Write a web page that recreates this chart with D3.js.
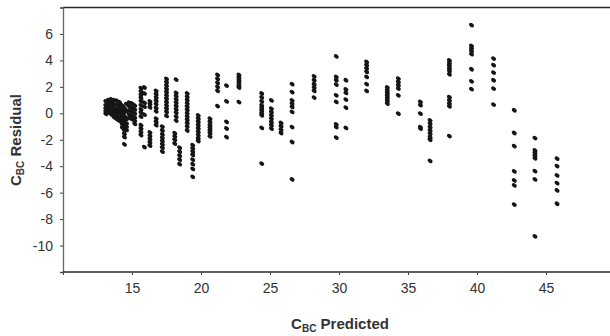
<!DOCTYPE html>
<html>
<head>
<meta charset="utf-8">
<script src="https://cdn.jsdelivr.net/npm/d3@7"></script>
<style>
  html, body { margin: 0; padding: 0; background: #fff; }
  svg { display: block; font-family: "Liberation Sans", Arial, sans-serif; }
</style>
</head>
<body>
<svg id="chart" width="610" height="336"></svg>
<script>
// predicted C_BC of each vertical group of points
const predicted = [
  13.1, 13.3, 13.5, 13.7, 13.9, 14.1, 14.3, 14.45, 14.6, 14.8, 15.0, 15.2,
  15.65, 15.9, 16.3, 16.75, 17.2, 17.5, 18.2, 18.1, 18.45, 19.0, 19.4, 19.8,
  20.65, 21.2, 21.85, 22.75,
  24.4, 25.1, 25.8, 26.6, 28.2, 29.8, 30.5, 32.0, 33.5, 34.3, 35.9, 36.6,
  38.0, 39.6, 41.2, 42.7, 44.2, 45.8
];

// residuals belonging to each predicted value above
const residuals = [
  [0.9, 0.6, 0.35, 0.15, -0.05],
  [1.0, 0.75, 0.5, 0.25, 0.05],
  [1.05, 0.8, 0.55, 0.3, 0.1, -0.1],
  [1.0, 0.7, 0.4, 0.2, -0.05, -0.3],
  [0.95, 0.65, 0.35, 0.1, -0.2, -0.45],
  [0.85, 0.55, 0.25, 0.0, -0.3, -0.6],
  [0.6, 0.3, 0.05, -0.25, -0.55, -0.85, -1.1],
  [0.4, 0.1, -0.2, -0.5, -0.8, -1.05, -1.3, -1.55, -1.8, -2.35],
  [0.7, 0.2, -0.4, -0.75, -1.0, -1.25],
  [0.8, 0.5, 0.2, -0.1, -0.35],
  [0.75, 0.45, 0.15, -0.15, -0.45],
  [0.6, 0.3, 0.0, -0.3, -0.55, -0.8],
  [1.9, 1.65, 1.4, 1.15, 0.9, 0.6, 0.3, 0.05, -0.25, -0.9, -1.15, -1.4, -1.65],
  [1.95, 1.5, 0.8, 0.5, -0.1, -2.55],
  [0.9, 0.7, 0.45, -1.45, -1.7, -1.95, -2.2, -2.45],
  [1.7, 1.45, 1.2, 0.95, 0.7, 0.4, 0.15, -0.4, -0.65, -0.9],
  [-1.0, -1.3, -1.6, -1.85, -2.1, -2.35, -2.6, -2.9],
  [2.6, 2.35, 2.1, 1.85, 1.6, 1.35, 1.1, 0.85, 0.6, 0.35, 0.1, -0.2],
  [2.55, 1.55, 1.3, 1.05, 0.8, 0.55, 0.3, 0.05, -0.25, -0.55],
  [-1.5, -1.75, -2.0, -2.3],
  [-2.6, -2.9, -3.2, -3.5, -3.85],
  [1.5, 1.25, 1.0, 0.75, 0.5, 0.25, 0.0, -0.25, -0.5, -0.75, -1.0, -1.3],
  [-2.4, -2.65, -2.9, -3.15, -3.5, -3.85, -4.2, -4.8],
  [-0.15, -0.4, -0.65, -0.9, -1.15, -1.4, -1.65, -1.9, -2.1],
  [-0.4, -0.65, -0.9, -1.1, -1.3, -1.5, -1.75],
  [2.9, 2.6, 2.3, 2.0, 1.7, 0.55],
  [2.1, 0.9, -0.65, -1.15, -1.8],
  [2.9, 2.7, 2.5, 2.3, 2.1, 1.95, 0.85],
  [1.5, 1.2, 0.9, 0.6, 0.4, 0.2, 0.0, -0.15, -1.1, -3.8],
  [0.98, 0.36, 0.1, -0.15, -0.4, -0.66, -0.9, -1.16],
  [-0.73, -0.98, -1.24, -1.49],
  [2.2, 1.6, 0.98, 0.73, 0.48, 0.1, -1.04, -2.17, -5.0],
  [2.8, 2.5, 2.2, 1.95, 1.69, 1.19],
  [4.3, 2.75, 2.5, 2.17, 1.36, 0.86, -0.83, -1.04, -1.84],
  [2.5, 1.8, 1.54, 1.04, 0.43, -1.11],
  [3.89, 3.64, 3.39, 3.13, 2.75, 2.2, 1.69],
  [1.95, 1.74, 1.54, 1.34, 1.14, 0.94, 0.73],
  [2.63, 2.37, 2.12, 1.87, 1.36, -0.03],
  [0.86, 0.61, -0.03, -1.04, -1.16],
  [-0.53, -0.78, -1.04, -1.29, -1.54, -1.8, -2.0, -3.6],
  [4.0, 3.8, 3.6, 3.4, 3.2, 2.95, 1.23, 0.98, 0.73, 0.53, -1.72],
  [6.67, 5.1, 4.9, 4.7, 4.47, 3.33, 2.42, 1.82],
  [4.14, 3.64, 3.08, 2.5, 1.87, 0.66],
  [0.23, -1.49, -2.48, -4.39, -5.08, -5.45, -6.9],
  [-1.87, -2.8, -3.0, -3.2, -3.4, -4.37, -5.0, -9.3],
  [-3.43, -3.99, -4.7, -5.28, -5.83, -6.84]
];

const xTicks = [10, 15, 20, 25, 30, 35, 40, 45, 50];
const yTicks = [-12, -10, -8, -6, -4, -2, 0, 2, 4, 6, 8];
const xLabelled = [15, 20, 25, 30, 35, 40, 45];
const yLabelled = [-10, -8, -6, -4, -2, 0, 2, 4, 6];

const points = predicted.flatMap((p, i) => residuals[i].map(r => ({ p, r })));

const svg = d3.select("#chart");
const W = 610;

const x = d3.scaleLinear().domain([10, 50]).range([63, 615]);
const y = d3.scaleLinear().domain([-12, 8]).range([272, 7.5]);

// frame: top line and axes
svg.append("line")
  .attr("x1", x(10)).attr("x2", W)
  .attr("y1", y(8)).attr("y2", y(8))
  .attr("stroke", "#2a2a2a").attr("stroke-width", 1.6);

const yAxis = svg.append("g")
  .attr("transform", `translate(${x(10)},0)`)
  .call(d3.axisLeft(y)
    .tickValues(yTicks)
    .tickSize(3)
    .tickPadding(7)
    .tickFormat(d => yLabelled.includes(d) ? String(d) : ""));

const xAxis = svg.append("g")
  .attr("transform", `translate(0,${y(-12)})`)
  .call(d3.axisBottom(x)
    .tickValues(xTicks)
    .tickSize(3)
    .tickPadding(8)
    .tickFormat(d => xLabelled.includes(d) ? String(d) : ""));

yAxis.select(".domain").attr("stroke", "#666").attr("stroke-width", 1.3);
xAxis.select(".domain").attr("stroke", "#2a2a2a").attr("stroke-width", 1.6)
  .attr("d", `M${x(10)},0H${W}`);
svg.selectAll(".tick line").attr("stroke", "#444");
svg.selectAll(".tick text")
  .attr("fill", "#333")
  .style("font-size", "14px")
  .style("font-family", "'Liberation Sans', Arial, sans-serif");

// points
svg.append("g")
  .selectAll("ellipse")
  .data(points)
  .join("ellipse")
  .attr("transform", d => `translate(${x(d.p)},${y(d.r)}) rotate(35)`)
  .attr("rx", 2.7)
  .attr("ry", 2.0)
  .attr("fill", "#151515");

// axis titles
const xTitle = svg.append("text")
  .attr("x", 340).attr("y", 329)
  .attr("text-anchor", "middle")
  .attr("fill", "#333")
  .style("font-size", "15px")
  .style("font-weight", "bold");
xTitle.append("tspan").text("C");
xTitle.append("tspan").attr("dy", 2.5).style("font-size", "10px").text("BC");
xTitle.append("tspan").attr("dy", -2.5).text(" Predicted");

const yTitle = svg.append("text")
  .attr("transform", "translate(21,140) rotate(-90)")
  .attr("text-anchor", "middle")
  .attr("fill", "#333")
  .style("font-size", "15px")
  .style("font-weight", "bold");
yTitle.append("tspan").text("C");
yTitle.append("tspan").attr("dy", 2.5).style("font-size", "10px").text("BC");
yTitle.append("tspan").attr("dy", -2.5).text(" Residual");
</script>
</body>
</html>
